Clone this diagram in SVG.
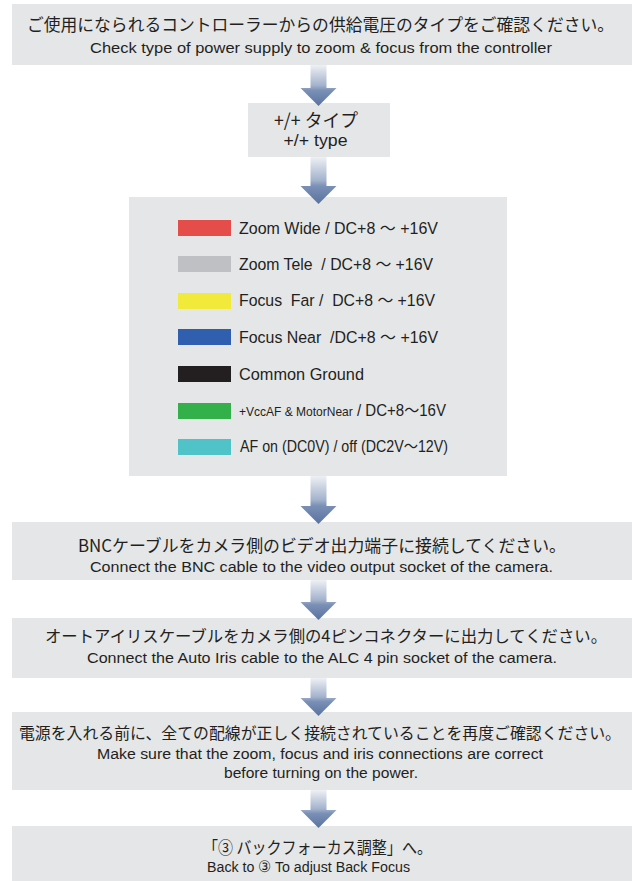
<svg xmlns="http://www.w3.org/2000/svg" width="632" height="881" viewBox="0 0 632 881">
<defs>
<linearGradient id="ag" x1="0" y1="0" x2="0" y2="1">
<stop offset="0" stop-color="#eef0f4"/>
<stop offset="0.5" stop-color="#a3b2cc"/>
<stop offset="0.62" stop-color="#7a90b6"/>
<stop offset="1" stop-color="#5a72a0"/>
</linearGradient>
<style>
.box{fill:#e5e6e8}
.jp{font-family:"Noto Sans CJK JP","Liberation Sans",sans-serif;font-size:17px;fill:#231f20;text-anchor:middle}
.en{font-family:"Liberation Sans",Arial,sans-serif;font-size:15.5px;fill:#231f20;text-anchor:middle}
.lg{font-family:"Liberation Sans","Noto Sans CJK JP",sans-serif;font-size:16.3px;fill:#231f20}
.arrow{fill:url(#ag)}
</style>
</defs>
<rect width="632" height="881" fill="#ffffff"/>

<g id="step1">
<rect class="box" x="12" y="4" width="620" height="61"/>
<text class="jp" x="320.5" y="31" textLength="587" lengthAdjust="spacingAndGlyphs">ご使用になられるコントローラーからの供給電圧のタイプをご確認ください。</text>
<text class="en" x="321" y="53" textLength="462" lengthAdjust="spacingAndGlyphs">Check type of power supply to zoom &amp; focus from the controller</text>
</g>

<g id="step2">
<rect class="box" x="248" y="103" width="142" height="54"/>
<text class="jp" x="316" y="127" textLength="84" lengthAdjust="spacingAndGlyphs" style="font-size:18px">+/+ タイプ</text>
<text class="en" x="315.5" y="146" textLength="64" lengthAdjust="spacingAndGlyphs" style="font-size:16.5px">+/+ type</text>
</g>

<g id="legend">
<rect class="box" x="129" y="197" width="378" height="279"/>
<rect x="178" y="220" width="53" height="16" fill="#e54d4b"/>
<text class="lg" x="239" y="234" textLength="199" lengthAdjust="spacingAndGlyphs">Zoom Wide / DC+8 ～ +16V</text>
<rect x="178" y="256" width="53" height="16" fill="#bfc0c3"/>
<text class="lg" x="239" y="270" textLength="194" lengthAdjust="spacingAndGlyphs" xml:space="preserve">Zoom Tele  / DC+8 ～ +16V</text>
<rect x="178" y="293" width="53" height="16" fill="#f2ea3b"/>
<text class="lg" x="239" y="306" textLength="196" lengthAdjust="spacingAndGlyphs" xml:space="preserve">Focus  Far /  DC+8 ～ +16V</text>
<rect x="178" y="329" width="53" height="16" fill="#2f5fae"/>
<text class="lg" x="239" y="343" textLength="199" lengthAdjust="spacingAndGlyphs" xml:space="preserve">Focus Near  /DC+8 ～ +16V</text>
<rect x="178" y="366" width="53" height="16" fill="#231f20"/>
<text class="lg" x="239" y="380" textLength="125" lengthAdjust="spacingAndGlyphs">Common Ground</text>
<rect x="178" y="403" width="53" height="16" fill="#34b04a"/>
<text class="lg" x="239" y="416" textLength="207" lengthAdjust="spacingAndGlyphs"><tspan style="font-size:13px">+VccAF &amp; MotorNear</tspan><tspan> / DC+8～16V</tspan></text>
<rect x="178" y="439" width="53" height="16" fill="#4fc3c8"/>
<text class="lg" x="240" y="452" textLength="208" lengthAdjust="spacingAndGlyphs">AF on (DC0V) / off (DC2V～12V)</text>
</g>

<g id="step4">
<rect class="box" x="12" y="522" width="620" height="58"/>
<text class="jp" x="322" y="552" textLength="488" lengthAdjust="spacingAndGlyphs">BNCケーブルをカメラ側のビデオ出力端子に接続してください。</text>
<text class="en" x="321.5" y="572" textLength="463" lengthAdjust="spacingAndGlyphs">Connect the BNC cable to the video output socket of the camera.</text>
</g>

<g id="step5">
<rect class="box" x="12" y="618" width="620" height="60"/>
<text class="jp" x="326" y="642" textLength="562" lengthAdjust="spacingAndGlyphs" style="font-size:16.3px">オートアイリスケーブルをカメラ側の4ピンコネクターに出力してください。</text>
<text class="en" x="322" y="663" textLength="470" lengthAdjust="spacingAndGlyphs">Connect the Auto Iris cable to the ALC 4 pin socket of the camera.</text>
</g>

<g id="step6">
<rect class="box" x="12" y="712" width="620" height="78"/>
<text class="jp" x="320" y="739" textLength="602" lengthAdjust="spacingAndGlyphs" style="font-size:15.8px">電源を入れる前に、全ての配線が正しく接続されていることを再度ご確認ください。</text>
<text class="en" x="320" y="759" textLength="446" lengthAdjust="spacingAndGlyphs">Make sure that the zoom, focus and iris connections are correct</text>
<text class="en" x="321" y="778" textLength="194" lengthAdjust="spacingAndGlyphs">before turning on the power.</text>
</g>

<g id="step7">
<rect class="box" x="12" y="826" width="620" height="55"/>
<text class="jp" x="317.5" y="854" textLength="229" lengthAdjust="spacingAndGlyphs">「③ バックフォーカス調整」へ。</text>
<text class="en" x="308.5" y="872" textLength="203" lengthAdjust="spacingAndGlyphs">Back to ③ To adjust Back Focus</text>
</g>

<g id="connectors">
<path class="arrow" d="M310.5,65 H326.5 V88 H336.5 L318.5,106 L300.5,88 H310.5 Z"/>
<path class="arrow" d="M310.5,157 H326.5 V186 H336.5 L318.5,204 L300.5,186 H310.5 Z"/>
<path class="arrow" d="M310.5,476 H326.5 V506 H336.5 L318.5,524 L300.5,506 H310.5 Z"/>
<path class="arrow" d="M310.5,580 H326.5 V602 H336.5 L318.5,620 L300.5,602 H310.5 Z"/>
<path class="arrow" d="M310.5,678 H326.5 V698 H336.5 L318.5,716 L300.5,698 H310.5 Z"/>
<path class="arrow" d="M310.5,790 H326.5 V810 H336.5 L318.5,828 L300.5,810 H310.5 Z"/>
</g>
</svg>
